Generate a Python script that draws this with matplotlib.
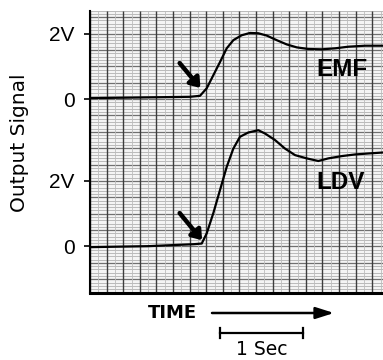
import numpy as np
import matplotlib
matplotlib.use("Agg")
import matplotlib.pyplot as plt
from matplotlib.transforms import blended_transform_factory

# ---------------------------------------------------------------------------
# Values (time in s, signal in volts)
# ---------------------------------------------------------------------------
emf_time = [0.00, 0.60, 1.20, 1.325, 1.406, 1.486, 1.566, 1.647, 1.727, 1.828,
            1.928, 2.028, 2.129, 2.249, 2.370, 2.490, 2.630, 2.792, 2.952,
            3.112, 3.313, 3.53]
emf_volts = [0.03, 0.05, 0.07, 0.10, 0.33, 0.73, 1.13, 1.55, 1.80, 1.95,
             2.02, 2.01, 1.94, 1.80, 1.67, 1.58, 1.53, 1.52, 1.55,
             1.60, 1.63, 1.63]

ldv_time = [0.00, 0.70, 1.25, 1.346, 1.406, 1.486, 1.566, 1.647, 1.727, 1.807,
            1.907, 2.028, 2.108, 2.229, 2.349, 2.470, 2.611, 2.751, 2.871,
            3.033, 3.193, 3.353, 3.53]
ldv_volts = [-0.03, 0.00, 0.06, 0.08, 0.39, 1.01, 1.71, 2.42, 2.98, 3.34,
             3.47, 3.54, 3.44, 3.24, 2.98, 2.78, 2.68, 2.60, 2.68,
             2.75, 2.80, 2.83, 2.86]

# the LDV trace sits lower on the paper
ldv_offset = -4.49

tick_values = [2.0, 0.0, 2.0 + ldv_offset, 0.0 + ldv_offset]
tick_labels = ["2V", "0", "2V", "0"]

# onset markers: (tail time, tail volts, tip time, tip volts)
emf_arrow = (1.08, 1.10, 1.33, 0.34)
ldv_arrow = (1.08, 1.01, 1.35, 0.18)

scale_bar = (1.57, 2.57)  # 1 s reference bar

TEXT_FONT = "Liberation Sans"
WIDE_FONT = "DejaVu Sans"


def draw_chart_paper(ax):
    """Recorder paper: dense light rulings plus darker time divisions."""
    x0, x1 = ax.get_xlim()
    y0, y1 = ax.get_ylim()
    ax.hlines(np.arange(-6.0, 3.0, 0.1), x0, x1, colors="#b0b0b0", lw=0.6, zorder=0)
    ax.hlines(np.arange(-6.0, 3.0, 0.5), x0, x1, colors="#707070", lw=0.9, zorder=0)
    ax.vlines(np.arange(0.1, x1, 0.2), y0, y1, colors="#bdbdbd", lw=0.6, zorder=0)
    ax.vlines(np.arange(0, x1, 0.2), y0, y1, colors="#3c3c3c", lw=1.0, zorder=0)


def main():
    fig = plt.figure(figsize=(3.83, 3.6), dpi=100)
    ax = fig.add_axes([90 / 383, 67 / 360, 293 / 383, 282 / 360])
    ax.set_facecolor("#f4f4f4")
    ax.set_xlim(0, 3.53)
    ax.set_ylim(-5.92, 2.69)
    draw_chart_paper(ax)

    line_style = dict(color="black", lw=1.6, zorder=3, solid_joinstyle="round",
                      solid_capstyle="round")
    ax.plot(emf_time, emf_volts, **line_style)
    ax.plot(ldv_time, np.array(ldv_volts) + ldv_offset, **line_style)

    # onset arrows
    for (tx, ty, hx, hy), off in ((emf_arrow, 0.0), (ldv_arrow, ldv_offset)):
        ax.annotate("", xy=(hx, hy + off), xytext=(tx, ty + off),
                    arrowprops=dict(arrowstyle="-|>,head_length=0.55,head_width=0.4",
                                    color="black", lw=3.2, shrinkA=0, shrinkB=0),
                    zorder=4)

    ax.text(2.73, 0.89, "EMF", fontsize=17.5, fontweight="bold", family=TEXT_FONT,
            ha="left", va="center", zorder=4)
    ax.text(2.73, 1.94 + ldv_offset, "LDV", fontsize=17.5, fontweight="bold",
            family=TEXT_FONT, ha="left", va="center", zorder=4)

    ax.set_xticks([])
    ax.set_yticks(tick_values)
    ax.set_yticklabels(tick_labels, fontsize=15, family=TEXT_FONT)
    ax.tick_params(axis="y", direction="out", length=4, width=1.2, pad=7)

    for side in ("top", "right"):
        ax.spines[side].set_visible(False)
    ax.spines["left"].set_linewidth(1.5)
    ax.spines["bottom"].set_linewidth(2.2)

    fig.text(19.5 / 383, 1 - 143 / 360, "Output Signal", rotation=90, fontsize=14.5,
             family=WIDE_FONT, ha="center", va="center")

    # time direction arrow
    fig.text(172 / 383, 1 - 313 / 360, "TIME", fontsize=13, fontweight="bold",
             family=WIDE_FONT, ha="center", va="center")
    ax.annotate("", xy=(334 / 383, 1 - 313 / 360), xytext=(212 / 383, 1 - 313 / 360),
                xycoords="figure fraction", textcoords="figure fraction",
                arrowprops=dict(arrowstyle="-|>,head_length=1.1,head_width=0.35",
                                color="black", lw=1.8, shrinkA=0, shrinkB=0))

    # one-second scale bar
    bar_tr = blended_transform_factory(ax.transData, fig.transFigure)
    bar_y = 1 - 333 / 360
    cap = 5 / 360
    ax.plot(scale_bar, [bar_y, bar_y], color="black", lw=1.6, transform=bar_tr, clip_on=False)
    for xb in scale_bar:
        ax.plot([xb, xb], [bar_y - cap, bar_y + cap], color="black", lw=1.6,
                transform=bar_tr, clip_on=False)
    ax.text(np.mean(scale_bar), 1 - 359 / 360, "1 Sec", fontsize=13.5, family=WIDE_FONT,
            ha="center", va="bottom", transform=bar_tr)

    fig.savefig("out.png", dpi=100)
    plt.close(fig)


if __name__ == "__main__":
    main()
